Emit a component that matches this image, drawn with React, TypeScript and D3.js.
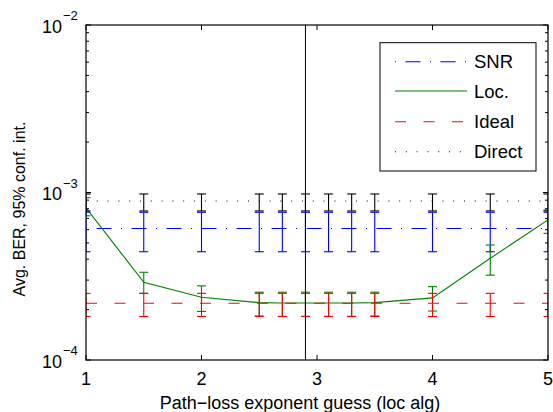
import React from "react";
import * as d3 from "d3";

const xs = [1, 1.5, 2, 2.5, 2.7, 2.9, 3.1, 3.3, 3.5, 4, 4.5, 5];

const snrMean = [6.1e-4, 6.1e-4, 6.1e-4, 6.1e-4, 6.1e-4, 6.1e-4, 6.1e-4, 6.1e-4, 6.1e-4, 6.1e-4, 6.1e-4, 6.1e-4];
const snrLo = [4.43e-4, 4.43e-4, 4.43e-4, 4.43e-4, 4.43e-4, 4.43e-4, 4.43e-4, 4.43e-4, 4.43e-4, 4.43e-4, 4.43e-4, 4.43e-4];
const snrHi = [7.62e-4, 7.62e-4, 7.62e-4, 7.62e-4, 7.62e-4, 7.62e-4, 7.62e-4, 7.62e-4, 7.62e-4, 7.62e-4, 7.62e-4, 7.62e-4];

const locMean = [8.11e-4, 2.91e-4, 2.37e-4, 2.2e-4, 2.19e-4, 2.19e-4, 2.19e-4, 2.19e-4, 2.2e-4, 2.35e-4, 4.05e-4, 6.86e-4];
const locLo = [7.26e-4, 2.5e-4, 1.95e-4, 1.83e-4, 1.82e-4, 1.82e-4, 1.82e-4, 1.82e-4, 1.83e-4, 1.96e-4, 3.21e-4, 5.7e-4];
const locHi = [9.31e-4, 3.34e-4, 2.77e-4, 2.54e-4, 2.54e-4, 2.54e-4, 2.54e-4, 2.54e-4, 2.54e-4, 2.74e-4, 4.86e-4, 7.87e-4];

const idealMean = [2.18e-4, 2.18e-4, 2.18e-4, 2.18e-4, 2.18e-4, 2.18e-4, 2.18e-4, 2.18e-4, 2.18e-4, 2.18e-4, 2.18e-4, 2.18e-4];
const idealLo = [1.82e-4, 1.82e-4, 1.82e-4, 1.82e-4, 1.82e-4, 1.82e-4, 1.82e-4, 1.82e-4, 1.82e-4, 1.82e-4, 1.82e-4, 1.82e-4];
const idealHi = [2.5e-4, 2.5e-4, 2.5e-4, 2.5e-4, 2.5e-4, 2.5e-4, 2.5e-4, 2.5e-4, 2.5e-4, 2.5e-4, 2.5e-4, 2.5e-4];

const directMean = [8.9e-4, 8.9e-4, 8.9e-4, 8.9e-4, 8.9e-4, 8.9e-4, 8.9e-4, 8.9e-4, 8.9e-4, 8.9e-4, 8.9e-4, 8.9e-4];
const directLo = [7.76e-4, 7.76e-4, 7.76e-4, 7.76e-4, 7.76e-4, 7.76e-4, 7.76e-4, 7.76e-4, 7.76e-4, 7.76e-4, 7.76e-4, 7.76e-4];
const directHi = [9.8e-4, 9.8e-4, 9.8e-4, 9.8e-4, 9.8e-4, 9.8e-4, 9.8e-4, 9.8e-4, 9.8e-4, 9.8e-4, 9.8e-4, 9.8e-4];

const xTicks = [1, 2, 3, 4, 5];
const yDecades = [1e-4, 1e-3, 1e-2];
const yDecadeExp = ["−4", "−3", "−2"];
const verticalMarker = 2.9;

const legendLabels = ["SNR", "Loc.", "Ideal", "Direct"];

const FONT = "'Liberation Sans', Arial, Helvetica, sans-serif";

export default function App() {
  const W = 553, H = 412;
  const L = 86, R = 548, T = 25, B = 360;
  const x = d3.scaleLinear().domain([1, 5]).range([L, R]);
  const y = d3.scaleLog().domain([1e-4, 1e-2]).range([B, T]);

  const line = d3
    .line<number>()
    .x((_, i) => x(xs[i]))
    .y((d) => y(d));

  const series = [
    { name: legendLabels[0], mean: snrMean, lo: snrLo, hi: snrHi, color: "#0000ff", dash: "1 9.5 15 9.5" },
    { name: legendLabels[1], mean: locMean, lo: locLo, hi: locHi, color: "#008000", dash: "none" },
    { name: legendLabels[2], mean: idealMean, lo: idealLo, hi: idealHi, color: "#ff0000", dash: "11 17.5" },
    { name: legendLabels[3], mean: directMean, lo: directLo, hi: directHi, color: "#000000", dash: "1 9.8" },
  ];

  const minorTicks: number[] = [];
  for (const dec of [1e-4, 1e-3]) {
    for (let k = 2; k <= 9; k++) minorTicks.push(dec * k);
  }

  const cap = 4.5;
  const tl = 5;

  const legX = 380, legY = 42.7, legW = 156, legH = 128.3;
  const legRows = [61.7, 91, 121.7, 151.7];

  return (
    <svg width={W} height={H} style={{ position: "absolute", left: 0, top: 0, background: "#fff" }}>
      <defs>
        <clipPath id="plotclip">
          <rect x={L} y={T} width={R - L} height={B - T} />
        </clipPath>
      </defs>
      <rect x={0} y={0} width={W} height={H} fill="#fff" />

      <g clipPath="url(#plotclip)">
        {series.map((s) => (
          <g key={s.name}>
            <path d={line(s.mean) || ""} fill="none" stroke={s.color} strokeWidth={1.1} strokeDasharray={s.dash} />
            {xs.map((xv, i) => {
              const cx = x(xv);
              return (
                <g key={i} stroke={s.color} strokeWidth={1.1} fill="none">
                  <line x1={cx} x2={cx} y1={y(s.lo[i])} y2={y(s.hi[i])} />
                  <line x1={cx - cap} x2={cx + cap} y1={y(s.lo[i])} y2={y(s.lo[i])} />
                  <line x1={cx - cap} x2={cx + cap} y1={y(s.hi[i])} y2={y(s.hi[i])} />
                </g>
              );
            })}
          </g>
        ))}
        <line x1={x(verticalMarker)} x2={x(verticalMarker)} y1={T} y2={B} stroke="#000" strokeWidth={1} />
      </g>

      {/* axes box */}
      <rect x={L} y={T} width={R - L} height={B - T} fill="none" stroke="#000" strokeWidth={1.2} />

      {/* x ticks */}
      {xTicks.map((t) => (
        <g key={t}>
          <line x1={x(t)} x2={x(t)} y1={B} y2={B - tl} stroke="#000" strokeWidth={1} />
          <line x1={x(t)} x2={x(t)} y1={T} y2={T + tl} stroke="#000" strokeWidth={1} />
          <text x={x(t)} y={385} textAnchor="middle" fontFamily={FONT} fontSize={18} fill="#000">
            {t}
          </text>
        </g>
      ))}

      {/* y ticks */}
      {yDecades.map((t, i) => (
        <g key={t}>
          <line x1={L} x2={L + tl} y1={y(t)} y2={y(t)} stroke="#000" strokeWidth={1} />
          <line x1={R} x2={R - tl} y1={y(t)} y2={y(t)} stroke="#000" strokeWidth={1} />
          <text x={62} y={y(t) + 7.5} textAnchor="end" fontFamily={FONT} fontSize={18} fill="#000">
            10
          </text>
          <text x={63} y={y(t) - 5} textAnchor="start" fontFamily={FONT} fontSize={13} fill="#000">
            {yDecadeExp[i]}
          </text>
        </g>
      ))}
      {minorTicks.map((t) => (
        <g key={t}>
          <line x1={L} x2={L + 3} y1={y(t)} y2={y(t)} stroke="#000" strokeWidth={1} />
          <line x1={R} x2={R - 3} y1={y(t)} y2={y(t)} stroke="#000" strokeWidth={1} />
        </g>
      ))}

      {/* axis labels */}
      <text x={300} y={409} textAnchor="middle" fontFamily={FONT} fontSize={18} fill="#000">
        Path−loss exponent guess (loc alg)
      </text>
      <text
        transform={`translate(25,209) rotate(-90)`}
        textAnchor="middle"
        fontFamily={FONT}
        fontSize={16}
        fill="#000"
      >
        Avg. BER, 95% conf. int.
      </text>

      {/* legend */}
      <rect x={legX} y={legY} width={legW} height={legH} fill="#fff" stroke="#000" strokeWidth={1} />
      {series.map((s, i) => (
        <g key={s.name}>
          <line
            x1={395}
            x2={467}
            y1={legRows[i]}
            y2={legRows[i]}
            stroke={s.color}
            strokeWidth={1.1}
            strokeDasharray={s.dash}
          />
          <text x={474} y={legRows[i] + 6.5} fontFamily={FONT} fontSize={18.5} fill="#000">
            {s.name}
          </text>
        </g>
      ))}
    </svg>
  );
}
